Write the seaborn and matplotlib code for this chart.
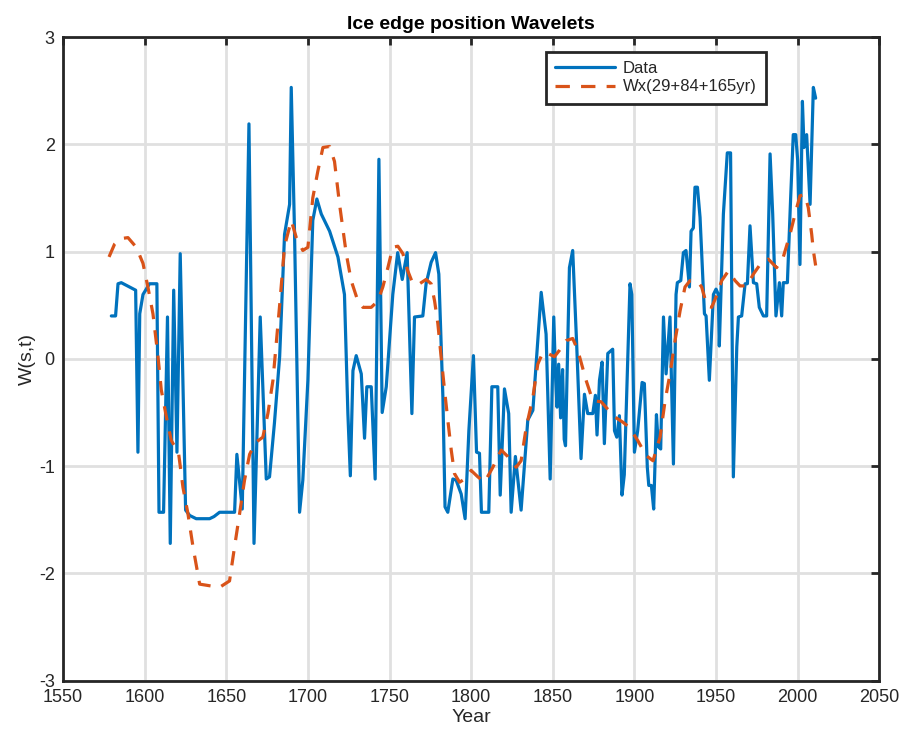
import numpy as np
import pandas as pd
import matplotlib
matplotlib.use("Agg")
import matplotlib.pyplot as plt
import seaborn as sns

data_year = [1579.6, 1582.2, 1583.7, 1585.7, 1590.8, 1594.5, 1595.9, 1597.0, 1599.0, 1603.0,
             1607.5, 1608.8, 1611.6, 1614.0, 1615.7, 1617.8, 1619.8, 1621.8, 1625.1, 1627.6,
             1631.6, 1639.8, 1642.5, 1645.9, 1655.1, 1656.5, 1659.8, 1663.9, 1667.0, 1670.8,
             1674.5, 1676.5, 1679.5, 1682.7, 1685.7, 1688.8, 1689.8, 1691.8, 1694.9, 1696.9,
             1700.0, 1703.0, 1705.5, 1708.2, 1713.3, 1718.4, 1722.4, 1724.5, 1726.0, 1727.6,
             1729.6, 1732.7, 1734.7, 1736.1, 1738.8, 1741.2, 1743.5, 1745.5, 1748.0, 1752.0,
             1755.0, 1757.8, 1760.8, 1763.7, 1765.3, 1770.4, 1772.4, 1775.5, 1778.2, 1780.2,
             1782.7, 1784.0, 1785.7, 1788.8, 1790.8, 1793.9, 1796.3, 1798.6, 1801.4, 1803.3,
             1805.1, 1806.3, 1810.8, 1812.7, 1816.3, 1817.8, 1820.4, 1823.0, 1824.5, 1827.1,
             1830.6, 1834.7, 1837.8, 1842.9, 1845.9, 1848.4, 1850.6, 1851.8, 1852.6, 1853.6,
             1854.8, 1856.0, 1857.0, 1857.8, 1860.2, 1862.2, 1864.7, 1867.3, 1869.4, 1871.4,
             1874.5, 1876.1, 1877.1, 1878.6, 1880.2, 1881.6, 1883.7, 1886.7, 1887.8, 1889.2,
             1890.8, 1892.4, 1893.8, 1897.3, 1898.4, 1900.0, 1902.0, 1904.7, 1906.1, 1907.9,
             1908.8, 1910.4, 1911.8, 1913.5, 1914.7, 1916.1, 1917.8, 1919.4, 1921.8, 1923.9,
             1925.5, 1926.3, 1928.4, 1930.0, 1931.6, 1933.7, 1934.7, 1936.1, 1937.1, 1938.6,
             1940.2, 1942.9, 1943.9, 1945.9, 1948.4, 1950.0, 1951.4, 1952.0, 1954.5, 1956.9,
             1958.9, 1960.6, 1962.7, 1963.7, 1965.7, 1967.8, 1969.2, 1970.8, 1972.9, 1974.9,
             1976.5, 1979.0, 1981.0, 1983.1, 1984.7, 1986.7, 1988.8, 1990.2, 1991.2, 1993.7,
             1995.7, 1997.3, 1998.8, 2000.0, 2001.4, 2002.9, 2003.9, 2005.5, 2007.6, 2009.6,
             2011.0]
data_val = [0.40, 0.40, 0.70, 0.71, 0.67, 0.64, -0.87, 0.42, 0.60, 0.70,
            0.70, -1.43, -1.43, 0.39, -1.72, 0.64, -0.87, 0.98, -1.41, -1.46,
            -1.49, -1.49, -1.47, -1.43, -1.43, -0.89, -1.40, 2.19, -1.72, 0.39,
            -1.12, -1.10, -0.60, 0.02, 1.16, 1.44, 2.53, 1.19, -1.43, -1.13,
            -0.20, 1.29, 1.49, 1.35, 1.19, 0.95, 0.60, -0.51, -1.09, -0.11,
            0.03, -0.14, -0.74, -0.26, -0.26, -1.12, 1.86, -0.50, -0.26, 0.60,
            0.99, 0.74, 0.99, -0.51, 0.39, 0.40, 0.70, 0.90, 0.99, 0.79,
            -0.36, -1.38, -1.43, -1.12, -1.13, -1.26, -1.49, -0.67, 0.03, -0.87,
            -0.88, -1.43, -1.43, -0.26, -0.26, -1.27, -0.28, -0.51, -1.43, -0.91,
            -1.41, -0.57, -0.48, 0.62, 0.23, -1.12, 0.39, -0.20, -0.45, -0.05,
            -0.55, -0.10, -0.75, -0.81, 0.85, 1.01, 0.11, -0.93, -0.33, -0.51,
            -0.51, -0.34, -0.71, -0.20, -0.03, -0.79, 0.05, 0.09, -0.67, -0.73,
            -0.53, -1.27, -1.08, 0.70, 0.60, -0.87, -0.67, -0.22, -0.23, -1.01,
            -1.18, -1.18, -1.40, -0.52, -0.82, -0.84, 0.39, -0.14, 0.39, -0.98,
            0.60, 0.71, 0.73, 0.99, 1.01, 0.67, 1.19, 1.22, 1.60, 1.60,
            1.32, 0.42, 0.40, -0.20, 0.60, 0.65, 0.60, 0.12, 1.35, 1.92,
            1.92, -1.10, 0.11, 0.39, 0.40, 0.70, 0.70, 1.24, 0.71, 0.70,
            0.48, 0.40, 0.40, 1.91, 1.35, 0.40, 0.71, 0.40, 0.71, 0.71,
            1.50, 2.09, 2.09, 1.85, 0.88, 2.40, 1.97, 2.09, 1.44, 2.53,
            2.43]

wx_year = [1578.2, 1581.6, 1585.0, 1589.8, 1594.9, 1599.0, 1602.0, 1605.1, 1608.2, 1610.2,
           1613.3, 1616.3, 1620.8, 1623.5, 1626.5, 1629.6, 1633.7, 1637.8, 1645.9, 1652.0,
           1655.1, 1658.2, 1661.2, 1664.3, 1668.0, 1672.4, 1675.5, 1678.6, 1682.7, 1685.7,
           1689.8, 1692.9, 1696.9, 1700.0, 1703.0, 1706.1, 1709.2, 1713.3, 1716.3, 1719.4,
           1723.5, 1726.5, 1730.6, 1733.7, 1738.8, 1742.9, 1745.9, 1749.0, 1752.0, 1755.1,
           1758.2, 1761.2, 1764.3, 1768.4, 1772.4, 1775.5, 1777.6, 1779.6, 1781.6, 1783.7,
           1785.7, 1787.8, 1789.8, 1792.9, 1796.0, 1800.0, 1804.1, 1808.2, 1813.3, 1818.4,
           1822.4, 1827.6, 1830.6, 1833.7, 1837.8, 1840.8, 1843.9, 1847.0, 1851.0, 1854.1,
           1858.2, 1862.2, 1865.3, 1870.4, 1874.5, 1879.6, 1883.7, 1887.8, 1892.9, 1897.0,
           1902.0, 1907.1, 1911.4, 1915.7, 1918.8, 1921.8, 1924.9, 1928.0, 1931.0, 1934.1,
           1938.2, 1941.2, 1944.3, 1947.3, 1950.4, 1953.5, 1957.6, 1961.6, 1964.7, 1968.8,
           1972.9, 1977.0, 1982.0, 1987.1, 1991.2, 1995.3, 1998.4, 2001.4, 2004.5, 2006.5,
           2008.6, 2009.6, 2011.0]
wx_val = [0.95, 1.07, 1.12, 1.13, 1.04, 0.89, 0.67, 0.42, 0.02, -0.29,
          -0.54, -0.76, -0.88, -1.20, -1.44, -1.75, -2.10, -2.11, -2.13, -2.07,
          -1.75, -1.44, -1.13, -0.89, -0.78, -0.73, -0.51, -0.20, 0.50, 1.05,
          1.29, 1.13, 1.01, 1.04, 1.50, 1.75, 1.97, 1.98, 1.84, 1.44,
          0.98, 0.73, 0.54, 0.48, 0.48, 0.54, 0.67, 0.85, 1.04, 1.05,
          0.98, 0.82, 0.70, 0.70, 0.74, 0.70, 0.54, 0.33, 0.02, -0.29,
          -0.57, -0.85, -1.07, -1.15, -1.12, -1.04, -1.10, -1.15, -1.01, -0.85,
          -0.91, -1.01, -0.95, -0.64, -0.36, -0.05, 0.06, 0.05, 0.02, 0.08,
          0.17, 0.19, 0.08, -0.20, -0.39, -0.40, -0.47, -0.54, -0.59, -0.64,
          -0.76, -0.90, -0.95, -0.73, -0.39, -0.14, 0.17, 0.45, 0.67, 0.73,
          0.73, 0.67, 0.50, 0.48, 0.59, 0.73, 0.82, 0.73, 0.68, 0.68,
          0.79, 0.88, 0.93, 0.85, 0.95, 1.16, 1.35, 1.52, 1.53, 1.41,
          1.16, 1.01, 0.87]

x_ticks = [1550, 1600, 1650, 1700, 1750, 1800, 1850, 1900, 1950, 2000, 2050]
y_ticks = [-3, -2, -1, 0, 1, 2, 3]
series_labels = ["Data", "Wx(29+84+165yr)"]
title_text = "Ice edge position Wavelets"

sns.set_style("white")
plt.rcParams['font.family'] = ['Liberation Sans', 'DejaVu Sans']
plt.rcParams['axes.unicode_minus'] = False

fig = plt.figure(figsize=(9.01, 7.29), dpi=100)
ax = fig.add_axes([63 / 901, (729 - 680.7) / 729, (879.3 - 63) / 901, (680.7 - 37) / 729])

df_data = pd.DataFrame({"Year": data_year, "W": data_val})
df_wx = pd.DataFrame({"Year": wx_year, "W": wx_val})

sns.lineplot(data=df_data, x="Year", y="W", ax=ax, color="#0072BD", linewidth=2.3,
             sort=False, estimator=None, label=series_labels[0], zorder=3)
sns.lineplot(data=df_wx, x="Year", y="W", ax=ax, color="#D95319", linewidth=2.3,
             sort=False, estimator=None, label=series_labels[1], zorder=4,
             dashes=False)
ax.lines[0].set_solid_joinstyle("round")
ax.lines[1].set_linestyle((0, (4.5, 3.5)))
ax.lines[1].set_dash_joinstyle("round")

ax.set_xlim(1550, 2050)
ax.set_ylim(-3, 3)
ax.set_xticks(x_ticks)
ax.set_yticks(y_ticks)
ax.grid(True, color="#e0e0e0", linewidth=2)
ax.set_axisbelow(True)
for s in ax.spines.values():
    s.set_linewidth(2)
    s.set_color("#262626")
    s.set_visible(True)
ax.tick_params(direction="in", length=6, width=2, top=True, right=True,
               labelsize=13, colors="#262626", pad=6)
for lbl in ax.get_xticklabels() + ax.get_yticklabels():
    lbl.set_color("#262626")

ax.set_xlabel("Year", fontsize=14, color="#262626", labelpad=2)
ax.set_ylabel("W(s,t)", fontsize=14, color="#262626", labelpad=2)
ax.set_title(title_text, fontsize=14, fontweight="bold", color="#000000", pad=6)

leg = ax.legend(loc="upper right", bbox_to_anchor=((766 - 63) / 816.3, (680.7 - 52) / 643.7),
                fontsize=12, frameon=True, fancybox=False, handlelength=3.6,
                borderpad=0.55, labelspacing=0.2, handletextpad=0.45, borderaxespad=0)
leg.get_frame().set_edgecolor("#262626")
leg.get_frame().set_linewidth(2)
leg.get_frame().set_alpha(1)

fig.savefig("out.png", dpi=100)
